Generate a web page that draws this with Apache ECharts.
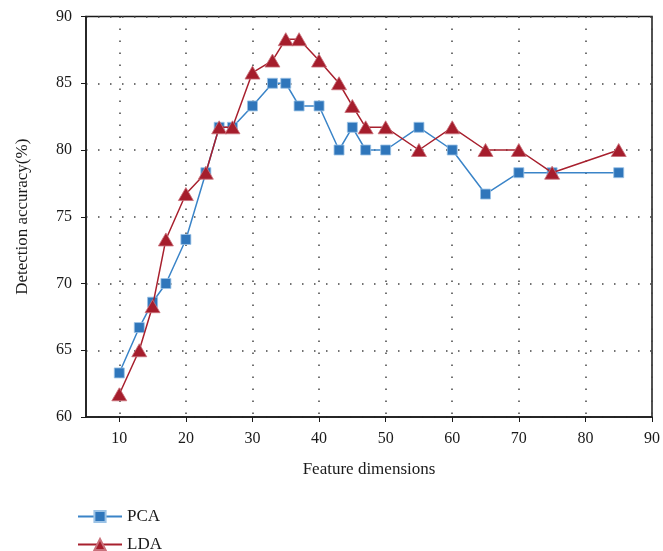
<!DOCTYPE html>
<html>
<head>
<meta charset="utf-8">
<script src="https://cdn.jsdelivr.net/npm/echarts@6/dist/echarts.min.js"></script>
<style>html,body{margin:0;padding:0;background:#fff;}#c{width:663px;height:551px;}</style>
</head>
<body>
<div id="c"></div>
<script>
var dims = [10, 13, 15, 17, 20, 23, 25, 27, 30, 33, 35, 37, 40, 43, 45, 47, 50, 55, 60, 65, 70, 75, 85];
var pca = [63.3, 66.7, 68.6, 70.0, 73.3, 78.3, 81.7, 81.7, 83.3, 85.0, 85.0, 83.3, 83.3, 80.0, 81.7, 80.0, 80.0, 81.7, 80.0, 76.7, 78.3, 78.3, 78.3];
var lda = [61.7, 65.0, 68.3, 73.3, 76.7, 78.3, 81.7, 81.7, 85.8, 86.7, 88.3, 88.3, 86.7, 85.0, 83.3, 81.7, 81.7, 80.0, 81.7, 80.0, 80.0, 78.3, 80.0];
var xTicks = [10, 20, 30, 40, 50, 60, 70, 80, 90];
var yTicks = [60, 65, 70, 75, 80, 85, 90];

function pairs(xs, ys) { return xs.map(function (x, i) { return [x, ys[i]]; }); }

var font = "'Liberation Serif', 'DejaVu Serif', serif";
var legendBase = { left: 72, itemWidth: 44, itemHeight: 14, itemGap: 10,
  textStyle: { fontFamily: font, fontSize: 17, color: '#1a1a1a' } };
var chart = echarts.init(document.getElementById('c'));
chart.setOption({
  animation: false,
  textStyle: { fontFamily: font },
  grid: { left: 86, top: 16.5, right: 11, bottom: 134, show: true, borderColor: '#1a1a1a', borderWidth: 1.5 },
  xAxis: {
    type: 'value', min: 5, max: 90, interval: 10,
    name: 'Feature dimensions', nameLocation: 'middle', nameGap: 44,
    nameTextStyle: { fontFamily: font, fontSize: 17, color: '#1a1a1a' },
    axisLine: { show: true, onZero: false, lineStyle: { color: '#1a1a1a', width: 1.5 } },
    axisTick: { show: true, inside: false, length: 5, lineStyle: { color: '#1a1a1a' },
      customValues: xTicks },
    axisLabel: { fontFamily: font, fontSize: 16, color: '#1a1a1a', margin: 14,
      customValues: xTicks },
    splitLine: { show: true, lineStyle: { color: '#444', type: [1.5, 10.5], width: 1.5 } }
  },
  yAxis: {
    type: 'value', min: 60, max: 90, interval: 5,
    name: 'Detection accuracy(%)', nameLocation: 'middle', nameGap: 55, nameRotate: 90,
    nameTextStyle: { fontFamily: font, fontSize: 17, color: '#1a1a1a' },
    axisLine: { show: true, onZero: false, lineStyle: { color: '#1a1a1a', width: 1.5 } },
    axisTick: { show: true, inside: false, length: 5, lineStyle: { color: '#1a1a1a' } },
    axisLabel: { fontFamily: font, fontSize: 16, color: '#1a1a1a', margin: 14 },
    splitLine: { show: true, lineStyle: { color: '#444', type: [1.5, 10.5], width: 1.5 } }
  },
  legend: [
    Object.assign({ top: 503, data: ['PCA'] }, legendBase),
    Object.assign({ top: 531, data: ['LDA'] }, legendBase)
  ],
  series: [
    {
      name: 'PCA', type: 'line', data: pairs(dims, pca),
      symbol: 'rect', symbolSize: 10,
      lineStyle: { color: '#3a84c8', width: 1.5 },
      itemStyle: { color: '#2f76bb', borderColor: '#9cc3e6', borderWidth: 0.8 },
      z: 2
    },
    {
      name: 'LDA', type: 'line', data: pairs(dims, lda),
      symbol: 'triangle', symbolSize: [15, 13],
      lineStyle: { color: '#a8202e', width: 1.5 },
      itemStyle: { color: '#a51d2c', borderColor: '#c9707a', borderWidth: 0.8 },
      z: 3
    }
  ]
});
</script>
</body>
</html>
